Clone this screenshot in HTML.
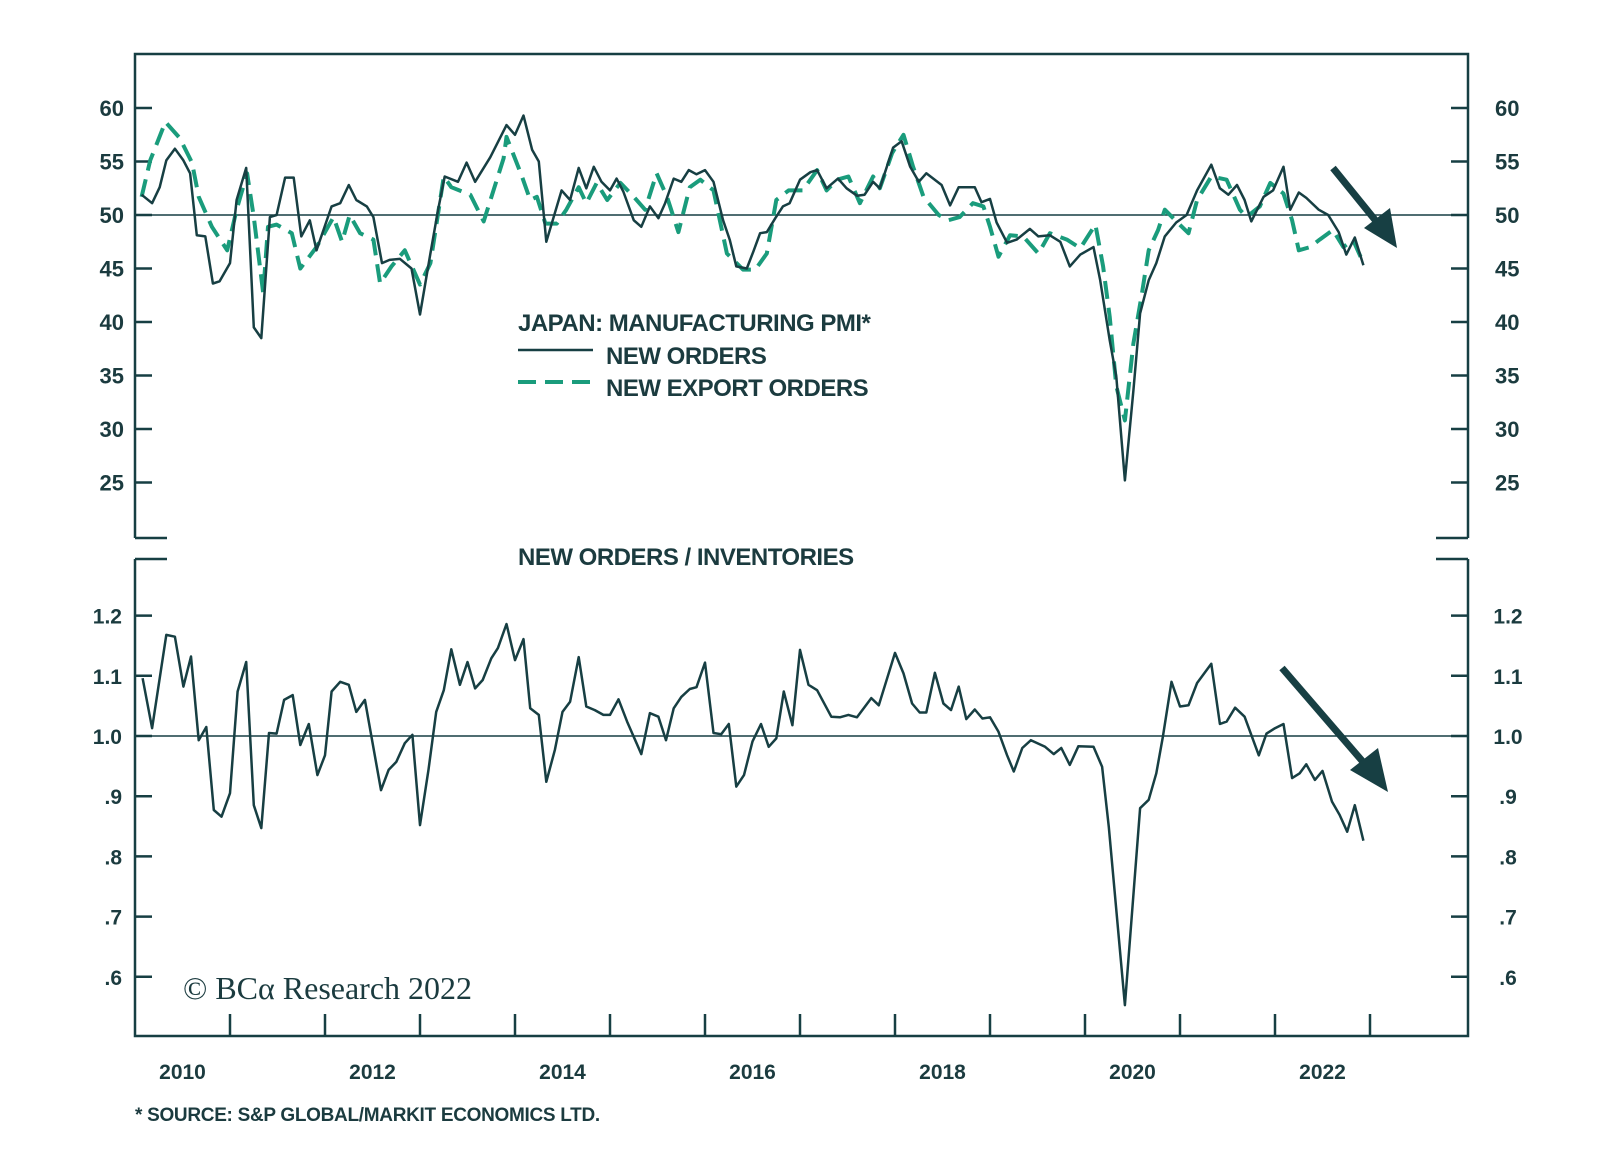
<!DOCTYPE html>
<html><head><meta charset="utf-8"><style>
html,body{margin:0;padding:0;background:#fff;}
svg{display:block;}
text{font-family:"Liberation Sans",sans-serif;fill:#1b3b3f;}
</style></head><body>
<svg id="chart" width="1600" height="1168" viewBox="0 0 1600 1168" xmlns="http://www.w3.org/2000/svg">
<g id="frame"></g>
<g id="marks"></g>
<g id="labels"></g>
<text x="518" y="331" font-size="24" font-weight="bold" letter-spacing="-0.5">JAPAN: MANUFACTURING PMI*</text>
<line x1="518" y1="350" x2="593" y2="350" stroke="#173f43" stroke-width="2.5"/>
<text x="606" y="364" font-size="24" font-weight="bold" letter-spacing="-0.5">NEW ORDERS</text>
<line x1="518" y1="382" x2="593" y2="382" stroke="#1a9c7c" stroke-width="4" stroke-dasharray="18,9"/>
<text x="606" y="396" font-size="24" font-weight="bold" letter-spacing="-0.5">NEW EXPORT ORDERS</text>
<text x="518" y="565" font-size="24" font-weight="bold" letter-spacing="-0.5">NEW ORDERS / INVENTORIES</text>
<text x="183" y="999" font-size="32" style="font-family:'Liberation Serif',serif">© BCα Research 2022</text>
<text x="135" y="1121" font-size="19" font-weight="bold" letter-spacing="-0.3">* SOURCE: S&amp;P GLOBAL/MARKIT ECONOMICS LTD.</text>
<g>
<line x1="1333" y1="168" x2="1380" y2="226" stroke="#173f43" stroke-width="7"/>
<polygon points="1397,248 1364,228 1390,208" fill="#173f43"/>
</g>
<g>
<line x1="1282" y1="668" x2="1370" y2="770" stroke="#173f43" stroke-width="7"/>
<polygon points="1388,792 1350,770 1378,748" fill="#173f43"/>
</g>
</svg>
<script>
const noDates=[2010.07,2010.18,2010.26,2010.33,2010.42,2010.51,2010.58,2010.65,2010.74,2010.82,2010.89,2011.00,2011.07,2011.17,2011.25,2011.33,2011.42,2011.49,2011.58,2011.67,2011.75,2011.84,2011.91,2012.07,2012.16,2012.25,2012.33,2012.44,2012.51,2012.60,2012.68,2012.79,2012.91,2013.00,2013.11,2013.19,2013.26,2013.40,2013.49,2013.58,2013.74,2013.91,2014.00,2014.09,2014.18,2014.25,2014.33,2014.49,2014.58,2014.67,2014.75,2014.83,2014.91,2015.00,2015.07,2015.14,2015.25,2015.33,2015.42,2015.51,2015.58,2015.67,2015.75,2015.83,2015.91,2016.00,2016.09,2016.19,2016.26,2016.33,2016.44,2016.51,2016.58,2016.65,2016.74,2016.82,2016.89,2017.00,2017.11,2017.18,2017.28,2017.40,2017.49,2017.60,2017.68,2017.77,2017.84,2017.98,2018.07,2018.16,2018.25,2018.33,2018.49,2018.58,2018.67,2018.84,2018.91,2019.00,2019.07,2019.18,2019.28,2019.42,2019.51,2019.63,2019.74,2019.84,2019.95,2020.09,2020.16,2020.26,2020.33,2020.42,2020.51,2020.58,2020.67,2020.75,2020.84,2020.96,2021.07,2021.18,2021.33,2021.42,2021.51,2021.60,2021.68,2021.75,2021.88,2021.98,2022.09,2022.16,2022.25,2022.33,2022.46,2022.56,2022.67,2022.75,2022.84,2022.93];
const newOrders=[51.9,51.1,52.6,55.1,56.2,55.1,53.9,48.1,48.0,43.6,43.8,45.5,51.4,54.4,39.5,38.5,49.8,50.0,53.5,53.5,48.0,49.5,46.7,50.8,51.1,52.8,51.4,50.8,49.8,45.5,45.8,45.9,45.0,40.7,46.4,50.5,53.6,53.1,54.9,53.1,55.4,58.4,57.5,59.3,56.1,55.0,47.5,52.3,51.4,54.4,52.5,54.5,53.1,52.3,53.4,52.2,49.5,48.9,50.8,49.7,51.1,53.4,53.1,54.2,53.8,54.2,53.1,49.5,47.7,45.2,45.0,46.6,48.3,48.4,49.7,50.8,51.1,53.3,54.0,54.2,52.5,53.4,52.5,51.8,51.9,53.1,52.5,56.3,56.9,54.5,53.1,53.9,52.8,50.9,52.6,52.6,51.2,51.5,49.3,47.4,47.7,48.7,48.0,48.1,47.5,45.2,46.3,47.0,43.9,38.3,34.9,25.2,33.6,40.8,43.9,45.5,48.0,49.3,50.0,52.3,54.7,52.5,51.9,52.8,51.4,49.4,51.7,52.3,54.5,50.5,52.1,51.6,50.5,50.0,48.4,46.3,47.9,45.3];
const exDates=[2010.07,2010.16,2010.32,2010.47,2010.60,2010.67,2010.81,2010.97,2011.07,2011.18,2011.25,2011.35,2011.40,2011.49,2011.65,2011.74,2011.91,2012.09,2012.18,2012.26,2012.37,2012.51,2012.58,2012.70,2012.84,2013.00,2013.11,2013.25,2013.33,2013.53,2013.67,2013.88,2013.91,2014.07,2014.16,2014.23,2014.32,2014.44,2014.54,2014.67,2014.75,2014.86,2014.97,2015.11,2015.25,2015.37,2015.49,2015.60,2015.72,2015.84,2015.95,2016.09,2016.23,2016.40,2016.53,2016.65,2016.75,2016.88,2017.03,2017.18,2017.28,2017.39,2017.51,2017.63,2017.77,2017.84,2017.97,2018.09,2018.19,2018.30,2018.46,2018.56,2018.68,2018.82,2018.93,2019.00,2019.09,2019.21,2019.35,2019.51,2019.63,2019.81,2019.95,2020.11,2020.19,2020.26,2020.33,2020.42,2020.51,2020.60,2020.67,2020.77,2020.84,2020.95,2021.09,2021.18,2021.33,2021.49,2021.63,2021.70,2021.84,2021.95,2022.09,2022.18,2022.25,2022.37,2022.47,2022.61,2022.72,2022.82,2022.93];
const exportOrders=[51.7,55.1,58.7,57.2,54.9,51.7,48.9,46.7,50.5,53.9,49.8,42.7,48.9,49.1,48.3,45.0,47.0,49.8,47.5,50.0,48.3,47.7,43.6,45.2,46.7,43.5,45.5,53.6,52.6,51.9,49.4,55.3,57.3,53.7,51.4,51.7,49.2,49.2,50.5,52.6,51.1,53.0,51.4,53.0,51.7,50.5,53.9,51.7,48.4,52.6,53.3,52.3,46.4,44.9,44.9,46.4,51.4,52.3,52.3,54.2,52.3,53.3,53.6,51.1,53.6,52.5,55.8,57.5,54.5,51.7,50.0,49.5,49.8,51.1,50.8,48.9,46.1,48.1,48.0,46.4,48.3,47.7,46.9,49.1,45.2,40.5,34.0,30.8,38.0,42.7,46.7,48.6,50.5,49.5,48.3,51.4,53.6,53.3,50.5,49.8,50.8,53.0,52.0,49.5,46.7,47.0,47.7,48.6,47.0,47.7,45.5];
const ratioDates=[2010.08,2010.18,2010.33,2010.42,2010.51,2010.59,2010.67,2010.75,2010.83,2010.91,2011.00,2011.08,2011.17,2011.25,2011.33,2011.41,2011.49,2011.57,2011.66,2011.74,2011.83,2011.92,2012.00,2012.07,2012.16,2012.25,2012.33,2012.42,2012.59,2012.67,2012.75,2012.84,2012.92,2013.00,2013.09,2013.17,2013.25,2013.33,2013.42,2013.50,2013.58,2013.66,2013.75,2013.82,2013.91,2014.00,2014.09,2014.16,2014.25,2014.33,2014.42,2014.50,2014.58,2014.67,2014.75,2014.84,2014.93,2015.00,2015.09,2015.18,2015.33,2015.42,2015.51,2015.59,2015.67,2015.75,2015.84,2015.91,2016.00,2016.09,2016.17,2016.25,2016.33,2016.41,2016.50,2016.59,2016.67,2016.75,2016.83,2016.92,2017.00,2017.09,2017.18,2017.33,2017.42,2017.51,2017.60,2017.75,2017.83,2018.00,2018.09,2018.18,2018.26,2018.33,2018.42,2018.51,2018.59,2018.67,2018.75,2018.84,2018.92,2019.00,2019.09,2019.18,2019.25,2019.34,2019.43,2019.58,2019.67,2019.75,2019.84,2019.93,2020.09,2020.18,2020.25,2020.42,2020.58,2020.67,2020.75,2020.82,2020.91,2021.00,2021.09,2021.18,2021.33,2021.42,2021.49,2021.58,2021.68,2021.83,2021.91,2022.00,2022.09,2022.18,2022.26,2022.33,2022.42,2022.50,2022.60,2022.68,2022.76,2022.84,2022.93];
const ratio=[1.096,1.013,1.168,1.165,1.082,1.132,0.993,1.015,0.877,0.866,0.905,1.074,1.123,0.885,0.847,1.005,1.004,1.060,1.068,0.985,1.020,0.935,0.968,1.074,1.090,1.085,1.040,1.060,0.910,0.944,0.957,0.988,1.002,0.852,0.944,1.040,1.076,1.144,1.085,1.123,1.079,1.093,1.129,1.146,1.186,1.126,1.161,1.046,1.035,0.924,0.977,1.040,1.057,1.131,1.049,1.043,1.035,1.035,1.061,1.024,0.970,1.038,1.032,0.993,1.046,1.065,1.078,1.081,1.122,1.005,1.003,1.020,0.916,0.935,0.991,1.020,0.982,0.996,1.074,1.018,1.143,1.085,1.076,1.032,1.031,1.035,1.031,1.063,1.051,1.138,1.104,1.054,1.039,1.039,1.105,1.054,1.043,1.082,1.028,1.044,1.029,1.031,1.007,0.968,0.941,0.980,0.993,0.982,0.970,0.980,0.952,0.983,0.982,0.949,0.849,0.553,0.880,0.894,0.938,0.999,1.090,1.049,1.051,1.088,1.120,1.020,1.024,1.047,1.032,0.968,1.004,1.013,1.020,0.930,0.938,0.953,0.927,0.942,0.891,0.869,0.841,0.885,0.826];
const topTicks=[60,55,50,45,40,35,30,25];
const bottomTicks=[1.2,1.1,1.0,0.9,0.8,0.7,0.6];
const bottomTickLabels=["1.2","1.1","1.0",".9",".8",".7",".6"];
const yearLabels=[2010,2012,2014,2016,2018,2020,2022];
const yearTicks=[2011,2012,2013,2014,2015,2016,2017,2018,2019,2020,2021,2022,2023];

const NS="http://www.w3.org/2000/svg";
const L=135,R=1468,TT=54,TB=538,BT=559,BB=1036;
const C="#173f43";
function xs(t){return L+(t-2010)*95;}
function yTop(v){return 215-(v-50)*10.7;}
function yBot(v){return 736-(v-1)*602;}
function mk(tag,attrs,parent){const e=document.createElementNS(NS,tag);for(const k in attrs)e.setAttribute(k,attrs[k]);parent.appendChild(e);return e;}
const frame=document.getElementById('frame'),marks=document.getElementById('marks'),labels=document.getElementById('labels');
let e;
e=mk('path',{d:`M${L},${TB} L${L},${TT} L${R},${TT} L${R},${TB}`,fill:'none',stroke:C,'stroke-width':2.5},frame);


e=mk('path',{d:`M${L},${TB} h32 M${R},${TB} h-32 M${L},${BT} h32 M${R},${BT} h-32`,fill:'none',stroke:C,'stroke-width':2.5},frame);


e=mk('path',{d:`M${L},${BT} L${L},${BB} L${R},${BB} L${R},${BT}`,fill:'none',stroke:C,'stroke-width':2.5},frame);


e=mk('line',{x1:L,x2:R,y1:yTop(50),y2:yTop(50),stroke:C,'stroke-width':1.5},frame);


e=mk('line',{x1:L,x2:R,y1:yBot(1),y2:yBot(1),stroke:C,'stroke-width':1.5},frame);


topTicks.forEach(v=>{const y=yTop(v);
 e=mk('path',{d:`M${L},${y} h17 M${R},${y} h-17`,stroke:C,'stroke-width':2.5},frame);
 
 
 e=mk('text',{x:124,y:y+8,'text-anchor':'end','font-size':22,'font-weight':'bold'},labels);e.textContent=v;
 
 
 e=mk('text',{x:1495,y:y+8,'font-size':22,'font-weight':'bold'},labels);e.textContent=v;
 
 
});
bottomTicks.forEach((v,i)=>{const y=yBot(v);
 e=mk('path',{d:`M${L},${y} h17 M${R},${y} h-17`,stroke:C,'stroke-width':2.5},frame);
 
 
 e=mk('text',{x:122,y:y+8,'text-anchor':'end','font-size':21,'font-weight':'bold'},labels);e.textContent=bottomTickLabels[i];
 
 
 e=mk('text',{x:1508,y:y+8,'text-anchor':'middle','font-size':21,'font-weight':'bold'},labels);e.textContent=bottomTickLabels[i];
 
 
});
yearTicks.forEach(t=>{const x=xs(t);
 e=mk('line',{x1:x,x2:x,y1:BB,y2:BB-22,stroke:C,'stroke-width':2.5},frame);
 
 
});
yearLabels.forEach(t=>{
 e=mk('text',{x:xs(t+0.5),y:1079,'text-anchor':'middle','font-size':21,'font-weight':'bold'},labels);e.textContent=t;
 
 
});
function path(dates,vals,yf){return dates.map((t,i)=>(i?'L':'M')+xs(t).toFixed(1)+','+yf(vals[i]).toFixed(1)).join(' ');}
e=mk('path',{d:path(exDates,exportOrders,yTop),fill:'none',stroke:'#1a9c7c','stroke-width':4,'stroke-dasharray':'18,9','stroke-linejoin':'round'},marks);


e=mk('path',{d:path(noDates,newOrders,yTop),fill:'none',stroke:C,'stroke-width':2.5,'stroke-linejoin':'round'},marks);


e=mk('path',{d:path(ratioDates,ratio,yBot),fill:'none',stroke:C,'stroke-width':2.5,'stroke-linejoin':'round'},marks);


</script>
</body></html>
